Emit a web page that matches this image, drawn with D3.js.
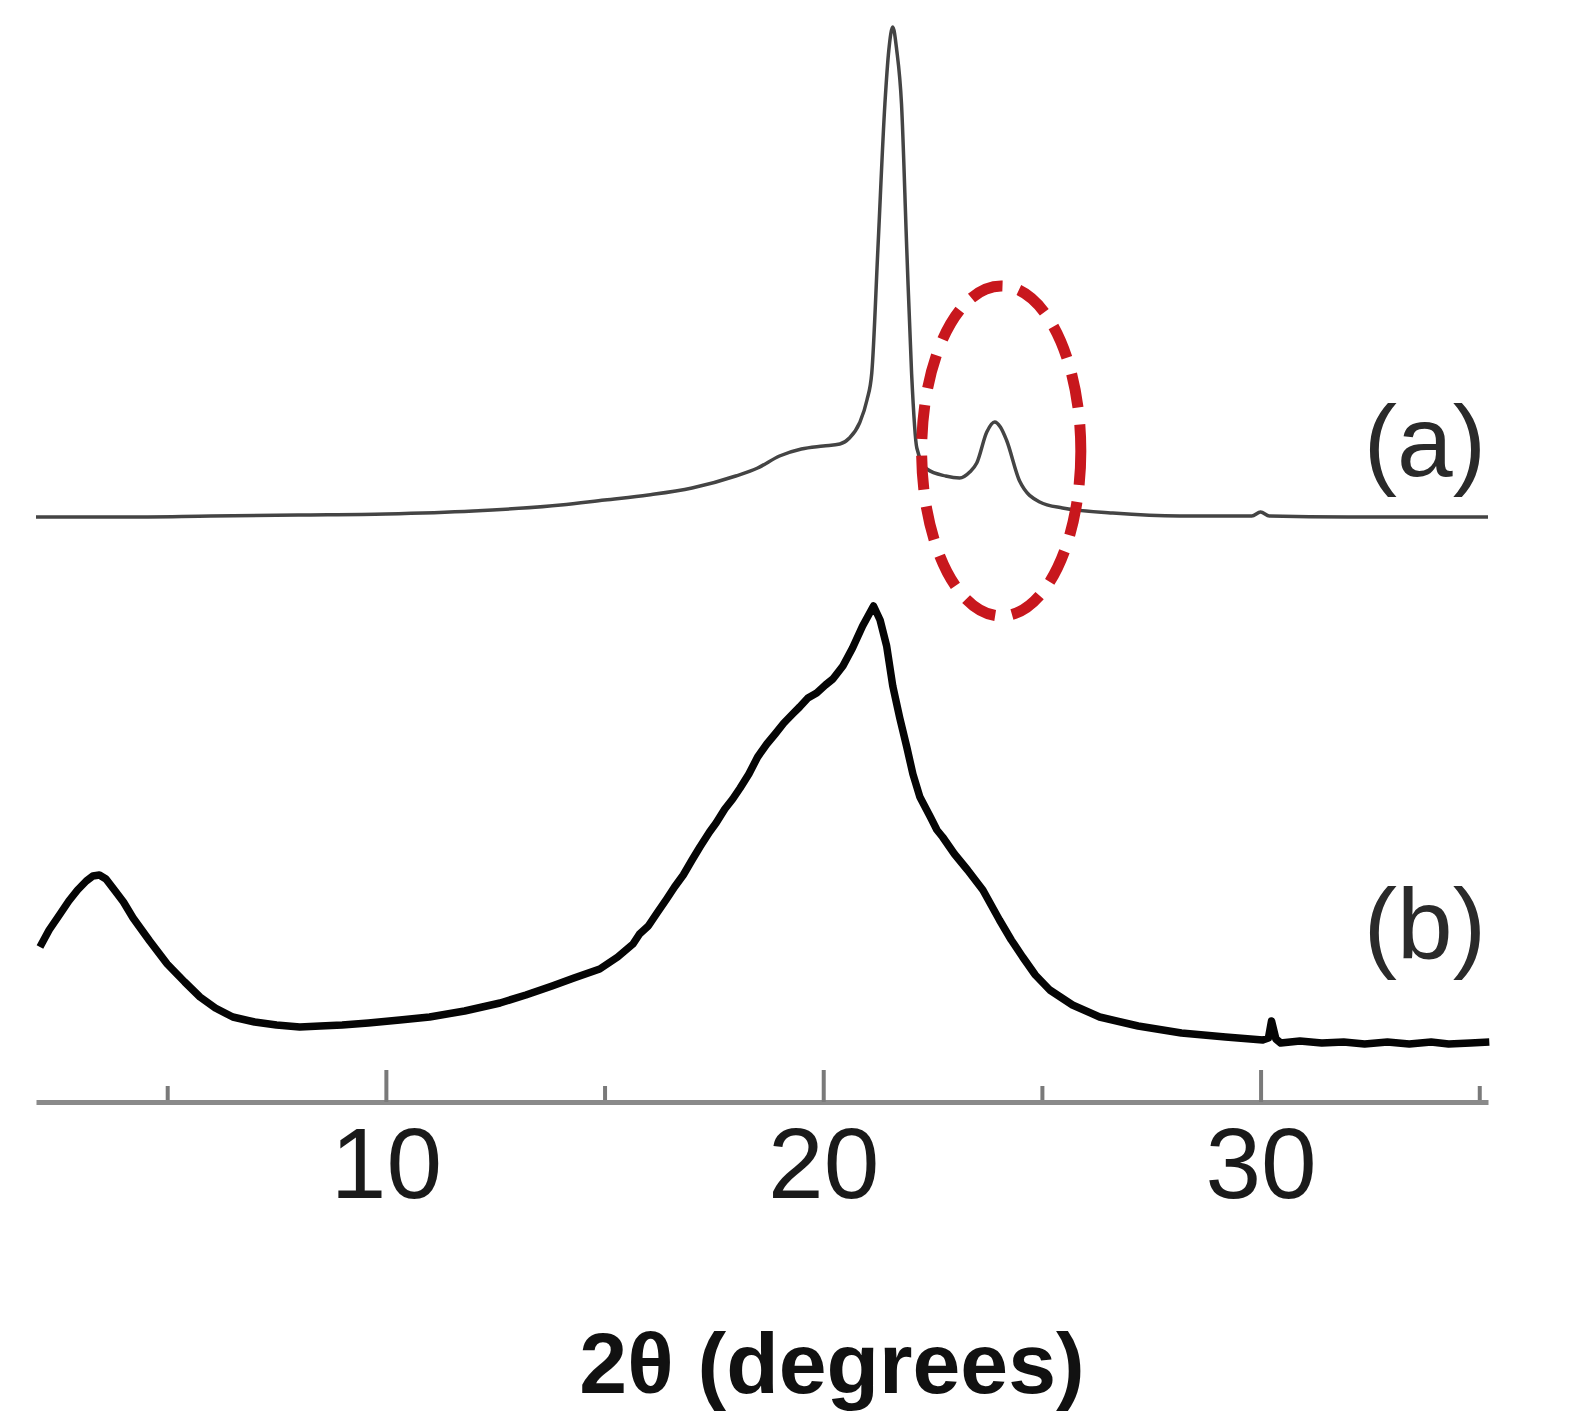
<!DOCTYPE html>
<html>
<head>
<meta charset="utf-8">
<script src="https://cdn.jsdelivr.net/npm/d3@7"></script>
<style>
  html, body { margin: 0; padding: 0; background: #ffffff; }
  svg { display: block; }
</style>
</head>
<body>
<svg id="chart" width="1572" height="1424"></svg>
<script>
// ---- data (2θ in degrees, intensity in arbitrary units) ----
const majorTicks = [10, 20, 30];
const minorTicks = [5, 15, 25, 35];
const xTitle = "2θ (degrees)";
const seriesLabels = ["(a)", "(b)"];
const seriesOffsets = [58, 0];

const thetaA = [2.0, 4, 6, 8, 10, 12, 14, 15, 16, 17, 18, 18.5, 19.0, 19.5, 20.0, 20.38, 20.6, 20.83, 21.0, 21.11, 21.25, 21.41, 21.5, 21.59, 21.68, 21.79, 21.91, 22.02, 22.14, 22.37, 22.8, 23.12, 23.35, 23.51, 23.74, 23.92, 24.05, 24.19, 24.49, 24.95, 25.47, 26.62, 28.15, 29.8, 30.0, 30.2, 32, 35.2];
const intensityA = [0.3, 0.3, 0.4, 0.5, 0.6, 0.9, 1.5, 2.0, 2.5, 3.2, 4.4, 5.2, 6.4, 7.1, 7.4, 7.6, 8.2, 9.7, 12.0, 14.7, 27.1, 41.6, 47.0, 49.3, 47.0, 41.6, 27.1, 14.7, 7.2, 5.1, 4.4, 4.2, 4.8, 5.7, 8.8, 9.8, 9.3, 8.0, 3.9, 1.8, 1.2, 0.7, 0.4, 0.4, 0.8, 0.4, 0.3, 0.3];

const thetaB = [2.09, 2.3, 2.55, 2.75, 2.95, 3.15, 3.3, 3.45, 3.6, 3.81, 4.0, 4.22, 4.6, 5.0, 5.4, 5.75, 6.1, 6.5, 7.0, 7.5, 8.03, 8.5, 9.0, 9.6, 10.32, 11.0, 11.8, 12.61, 13.2, 13.8, 14.3, 14.89, 15.3, 15.65, 15.8, 16.0, 16.2, 16.42, 16.6, 16.8, 17.0, 17.18, 17.4, 17.55, 17.75, 17.93, 18.1, 18.3, 18.5, 18.71, 18.9, 19.1, 19.3, 19.46, 19.65, 19.85, 20.05, 20.22, 20.45, 20.67, 20.9, 21.05, 21.15, 21.3, 21.45, 21.59, 21.75, 21.91, 22.05, 22.21, 22.45, 22.6, 22.73, 23.0, 23.3, 23.65, 24.03, 24.3, 24.56, 24.85, 25.18, 25.7, 26.32, 27.2, 28.19, 29.2, 30.05, 30.18, 30.25, 30.35, 30.46, 30.9, 31.4, 31.9, 32.38, 32.9, 33.4, 33.9, 34.3, 34.8, 35.23];
const intensityB = [15.3, 17.0, 18.6, 19.9, 21.0, 21.9, 22.4, 22.5, 22.1, 20.9, 19.8, 18.2, 15.9, 13.6, 11.8, 10.3, 9.2, 8.3, 7.8, 7.5, 7.3, 7.4, 7.5, 7.7, 8.0, 8.3, 8.9, 9.7, 10.5, 11.4, 12.2, 13.1, 14.3, 15.6, 16.6, 17.4, 18.7, 20.1, 21.3, 22.5, 24.0, 25.3, 26.8, 27.7, 29.1, 30.1, 31.2, 32.6, 34.3, 35.6, 36.6, 37.7, 38.6, 39.3, 40.2, 40.7, 41.5, 42.1, 43.4, 45.2, 47.4, 48.6, 49.4, 48.0, 45.4, 41.4, 38.2, 35.3, 32.6, 30.3, 28.3, 27.0, 26.3, 24.6, 23.0, 21.0, 18.0, 16.0, 14.3, 12.5, 11.0, 9.5, 8.3, 7.4, 6.7, 6.3, 6.0, 6.2, 7.9, 6.1, 5.7, 5.9, 5.7, 5.8, 5.6, 5.8, 5.6, 5.8, 5.6, 5.7, 5.8];

// annotation: dashed ellipse around the weak reflection in (a)
const ellipseCenter = [24.07, 6.9];   // [2θ, intensity of (a)]
const ellipseRadii = [1.82, 16.5];    // [degrees, intensity units]

// ---- scales ----
const svg = d3.select("#chart");
const x = d3.scaleLinear().domain([2, 35.2]).range([36, 1488]);
const y = d3.scaleLinear().domain([0, 110]).range([1100, 0]);

const FONT = "'Liberation Sans', Arial, Helvetica, sans-serif";

// ---- axis ----
const axisY = 1102;
const gMinor = svg.append("g").attr("transform", `translate(0,${axisY})`)
  .call(d3.axisBottom(x).tickValues(minorTicks).tickSizeInner(-16).tickSizeOuter(0).tickFormat(""));
gMinor.select(".domain").remove();
gMinor.selectAll(".tick line").attr("stroke", "#7a7a7a").attr("stroke-width", 4);

const gMajor = svg.append("g").attr("transform", `translate(0,${axisY})`)
  .call(d3.axisBottom(x).tickValues(majorTicks).tickSizeInner(-32).tickSizeOuter(0).tickPadding(25).tickFormat(d3.format("d")));
gMajor.select(".domain").attr("stroke", "#8a8a8a").attr("stroke-width", 5);
gMajor.selectAll(".tick line").attr("stroke", "#7a7a7a").attr("stroke-width", 4);
gMajor.selectAll(".tick text")
  .attr("font-family", FONT).attr("font-size", 100).attr("fill", "#1a1a1a");

svg.append("text")
  .attr("x", 832).attr("y", 1393)
  .attr("text-anchor", "middle")
  .attr("font-family", FONT).attr("font-size", 86).attr("font-weight", "bold")
  .attr("fill", "#111")
  .text(xTitle);

// ---- curves ----
const seriesA = thetaA.map((t, i) => [t, intensityA[i] + seriesOffsets[0]]);
const seriesB = thetaB.map((t, i) => [t, intensityB[i] + seriesOffsets[1]]);

const lineSmooth = d3.line().x(d => x(d[0])).y(d => y(d[1])).curve(d3.curveMonotoneX);
const lineRaw = d3.line().x(d => x(d[0])).y(d => y(d[1])).curve(d3.curveLinear);

svg.append("path").datum(seriesA)
  .attr("d", lineSmooth).attr("fill", "none")
  .attr("stroke", "#444").attr("stroke-width", 3.5).attr("stroke-linejoin", "round");

svg.append("path").datum(seriesB)
  .attr("d", lineRaw).attr("fill", "none")
  .attr("stroke", "#050505").attr("stroke-width", 7.5).attr("stroke-linejoin", "round");

// ---- ellipse annotation ----
const ecx = x(ellipseCenter[0]);
const ecy = y(ellipseCenter[1] + seriesOffsets[0]);
const erx = x(ellipseCenter[0] + ellipseRadii[0]) - ecx;
const ery = y(0) - y(ellipseRadii[1]);
svg.append("ellipse")
  .attr("cx", ecx).attr("cy", ecy).attr("rx", erx).attr("ry", ery)
  .attr("fill", "none").attr("stroke", "#c8171d").attr("stroke-width", 11)
  .attr("stroke-dasharray", "34 17");

// ---- series labels ----
const labelY = [y(seriesOffsets[0] + 0) - 44, y(seriesOffsets[1] + 0) - 141];
svg.selectAll("text.series").data(seriesLabels).enter().append("text")
  .attr("class", "series")
  .attr("x", 1486).attr("y", (d, i) => labelY[i])
  .attr("text-anchor", "end")
  .attr("font-family", FONT).attr("font-size", 100).attr("fill", "#2a2a2a")
  .text(d => d);
</script>
</body>
</html>
